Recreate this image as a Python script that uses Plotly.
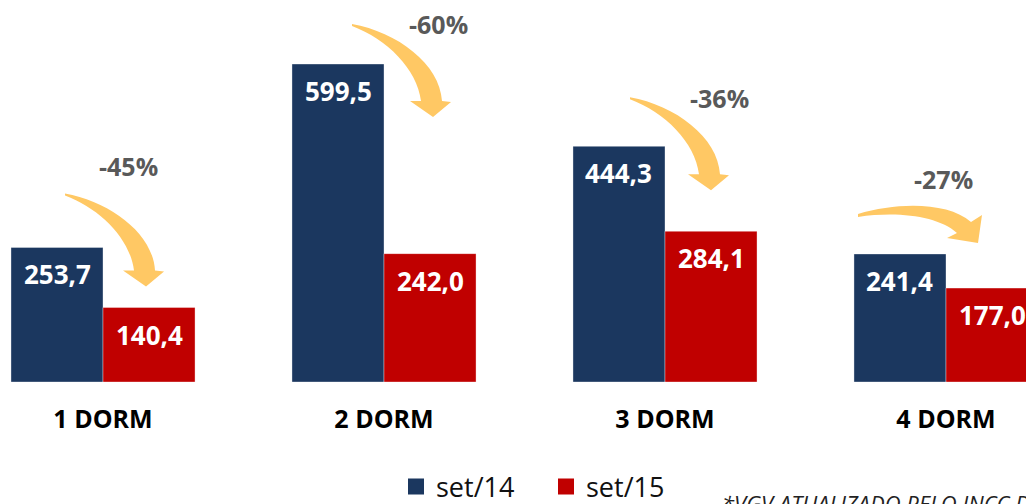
import plotly.graph_objects as go

# ---------------- data ----------------
categories = ["1 DORM", "2 DORM", "3 DORM", "4 DORM"]
series_names = ["set/14", "set/15"]
set14 = [253.7, 599.5, 444.3, 241.4]
set15 = [140.4, 242.0, 284.1, 177.0]
footnote = "*VGV ATUALIZADO PELO INCC DE SET/15"

# ---------------- style / layout ----------------
colors = ["#1B375F", "#C00000"]
arrow_color = "#FFC864"
FONT = "Open Sans"
W, H = 1026, 504
PLOT_H = 382
X_RANGE = [-0.3666, 3.2847]
Y_MAX = 720.2
PXX = W / (X_RANGE[1] - X_RANGE[0])   # pixels per category unit
PXY = PLOT_H / Y_MAX                  # pixels per value unit
BARGAP = 0.345
HALF = (1 - BARGAP) / 4               # offset of bar centre from category centre

# arrow templates in pixel offsets from the tail point (y grows downward)
ARROW_DOWN = [("M", [(0, 0)]), ("C", [(45, 8), (88, 40), (90, 77)]),
              ("L", [(99, 78)]), ("L", [(81, 93)]), ("L", [(58, 77)]), ("L", [(69, 77)]),
              ("C", [(65, 45), (35, 15), (0, 2)]), ("Z", [])]
ARROW_SIDE = [("M", [(0, 0)]), ("C", [(40, -12), (90, -12), (113, 8)]),
              ("L", [(124, 1)]), ("L", [(120, 29)]), ("L", [(89, 24)]), ("L", [(99, 19)]),
              ("C", [(80, 2), (40, -3), (0, 3)]), ("Z", [])]
arrow_templates = [ARROW_DOWN, ARROW_DOWN, ARROW_DOWN, ARROW_SIDE]
# tail position (px) relative to category centre and top of the set/14 bar
arrow_offsets = [(-38, -54), (-32, -40), (-35, -49), (-88, -40)]
# percent label centre (px) relative to category centre and top of set/14 bar
label_offsets = [(25, -81), (54, -40), (54, -48), (-3, -75)]


def to_data(cx, cy, rx, ry):
    return cx + rx / PXX, cy - ry / PXY


def arrow_path(template, cx, cy):
    parts = []
    for cmd, pts in template:
        if cmd == "Z":
            parts.append("Z")
            continue
        coords = " ".join("%.5f,%.4f" % to_data(cx, cy, rx, ry) for rx, ry in pts)
        parts.append(cmd + coords)
    return " ".join(parts)


xpos = list(range(len(categories)))

fig = go.Figure()
for name, vals, col in zip(series_names, [set14, set15], colors):
    fig.add_trace(go.Bar(
        x=xpos, y=vals, name=name,
        marker=dict(color=col, line=dict(color="rgba(255,255,255,0.35)", width=1)),
        showlegend=False, hoverinfo="skip"))
    # legend entries with larger square symbols
    fig.add_trace(go.Scatter(
        x=[None], y=[None], mode="markers", name=name,
        marker=dict(symbol="square", size=18, color=col), showlegend=True))

annotations = []
shapes = []
for i, cat in enumerate(categories):
    a, b = set14[i], set15[i]
    for off, v in [(-HALF, a), (HALF, b)]:
        annotations.append(dict(
            x=i + off, y=v, xref="x", yref="y", yshift=-27, showarrow=False,
            text="<b>%s</b>" % ("%.1f" % v).replace(".", ","),
            font=dict(family=FONT, size=26, color="white"),
            xanchor="center", yanchor="middle"))
    pct = round((b / a - 1) * 100)
    lx, ly = to_data(i, a, *label_offsets[i])
    annotations.append(dict(
        x=lx, y=ly, xref="x", yref="y", showarrow=False,
        text="<b>%d%%</b>" % pct,
        font=dict(family=FONT, size=25, color="#595959"),
        xanchor="center", yanchor="middle"))
    tx, ty = to_data(i, a, *arrow_offsets[i])
    shapes.append(dict(type="path", xref="x", yref="y",
                       path=arrow_path(arrow_templates[i], tx, ty),
                       fillcolor=arrow_color, line=dict(width=0), layer="above"))

annotations.append(dict(
    x=720 / W, y=(PLOT_H - 486) / PLOT_H, xref="paper", yref="paper",
    showarrow=False, text="<i>%s</i>" % footnote,
    font=dict(family=FONT, size=22, color="#222222"),
    xanchor="left", yanchor="top"))

fig.update_layout(
    width=W, height=H,
    margin=dict(l=0, r=0, t=0, b=H - PLOT_H, pad=0, autoexpand=False),
    paper_bgcolor="white", plot_bgcolor="white",
    barmode="group", bargap=BARGAP, bargroupgap=0,
    xaxis=dict(range=X_RANGE, tickvals=xpos, ticktext=["<b>%s</b>" % c for c in categories],
               tickfont=dict(family=FONT, size=25, color="black"),
               showgrid=False, zeroline=False, showline=False, ticks="",
               ticklabelstandoff=20, fixedrange=True, automargin=False),
    yaxis=dict(range=[0, Y_MAX], visible=False, fixedrange=True),
    legend=dict(orientation="h", x=396 / W, xanchor="left",
                yref="container", y=(H - 487) / H, yanchor="middle",
                font=dict(family=FONT, size=27, color="#111111"),
                itemwidth=30, entrywidth=105, tracegroupgap=0),
    shapes=shapes, annotations=annotations,
    showlegend=True,
)

fig.write_html("out.html", config={"displayModeBar": False},
               post_script="document.body.style.margin='0';document.body.style.overflow='hidden';")
